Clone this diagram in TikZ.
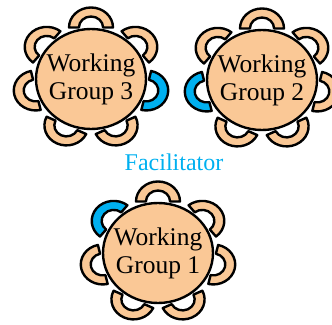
\documentclass[tikz,border=0pt]{standalone}
\usepackage{fontspec}
\setmainfont{Liberation Serif}
\usetikzlibrary{shapes.geometric}
\definecolor{peach}{HTML}{FAC896}
\definecolor{facblue}{HTML}{00B0F0}

\begin{document}
\begin{tikzpicture}[x=1pt,y=1pt,line width=2.4pt,
    table node/.style={ellipse,draw,fill=peach,minimum width=110pt,minimum height=100pt,inner sep=0pt},
    group label/.style={align=center,inner sep=0pt,font=\fontsize{25.5}{28}\selectfont},
    chair/.style={draw,fill=peach,line join=round}]
  \useasboundingbox (0,0) rectangle (332,324);

  \node[table node,label={[group label]center:Working\\Group 3}] (g3) at (91,245) {};
  \node[table node,label={[group label]center:Working\\Group 2}] (g2) at (262,244) {};
  \node[table node,label={[group label]center:Working\\Group 1}] (g1) at (158,71) {};
  \node[text=facblue,font=\fontsize{24}{26}\selectfont] (fac) at (174,162) {Facilitator};

  % seven chairs round each table, one for the facilitator
  \foreach \grp/\fac in {g3/5,g2/2,g1/1}{
    \begin{scope}[shift={(\grp.center)},xscale=1.1]
      \foreach \k in {0,...,6}{
        \pgfmathsetmacro\a{90+\k*360/7}
        \ifnum\k=\fac \def\col{facblue}\else\def\col{peach}\fi
        \path[chair,fill=\col] (\a:51.5) ++(\a-90:20)
          arc[start angle=\a-90,end angle=\a+90,radius=20] -- ++(\a-90:9)
          arc[start angle=\a+90,end angle=\a-90,radius=11] -- cycle;
      }
    \end{scope}
  }
\end{tikzpicture}
\end{document}
